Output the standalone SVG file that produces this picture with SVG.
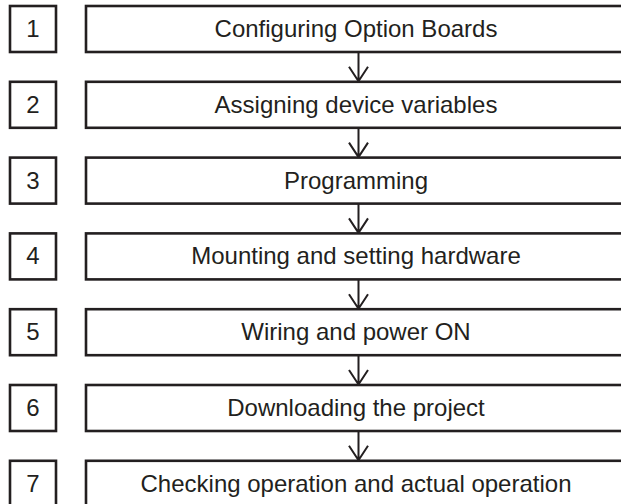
<svg xmlns="http://www.w3.org/2000/svg" width="621" height="504" viewBox="0 0 621 504">
<style>
.b{fill:#fff;stroke:#231f20;stroke-width:2.6}
.t{font-family:"Liberation Sans",Arial,sans-serif;font-size:24px;fill:#231f20;text-anchor:middle}
.c{fill:none;stroke:#231f20;stroke-width:2}
</style>
<rect width="621" height="504" fill="#fff"/>
<g id="connectors">
<path class="c" d="M358.5 52V81.8M349 66.8L358.5 81.3L368 66.8"/>
<path class="c" d="M358.5 127.8V157.6M349 142.6L358.5 157.1L368 142.6"/>
<path class="c" d="M358.5 203.6V233.4M349 218.4L358.5 232.9L368 218.4"/>
<path class="c" d="M358.5 279.4V309.2M349 294.2L358.5 308.7L368 294.2"/>
<path class="c" d="M358.5 355.2V385M349 370L358.5 384.5L368 370"/>
<path class="c" d="M358.5 431V460.8M349 445.8L358.5 460.3L368 445.8"/>
</g>
<g id="n1"><rect class="b" x="10" y="6" width="46" height="46"/><text class="t" x="33" y="37">1</text><rect class="b" x="86" y="6" width="550" height="46"/><text class="t" x="356" y="37">Configuring Option Boards</text></g>
<g id="n2"><rect class="b" x="10" y="81.8" width="46" height="46"/><text class="t" x="33" y="112.8">2</text><rect class="b" x="86" y="81.8" width="550" height="46"/><text class="t" x="356" y="112.8">Assigning device variables</text></g>
<g id="n3"><rect class="b" x="10" y="157.6" width="46" height="46"/><text class="t" x="33" y="188.6">3</text><rect class="b" x="86" y="157.6" width="550" height="46"/><text class="t" x="356" y="188.6">Programming</text></g>
<g id="n4"><rect class="b" x="10" y="233.4" width="46" height="46"/><text class="t" x="33" y="264.4">4</text><rect class="b" x="86" y="233.4" width="550" height="46"/><text class="t" x="356" y="264.4">Mounting and setting hardware</text></g>
<g id="n5"><rect class="b" x="10" y="309.2" width="46" height="46"/><text class="t" x="33" y="340.2">5</text><rect class="b" x="86" y="309.2" width="550" height="46"/><text class="t" x="356" y="340.2">Wiring and power ON</text></g>
<g id="n6"><rect class="b" x="10" y="385" width="46" height="46"/><text class="t" x="33" y="416">6</text><rect class="b" x="86" y="385" width="550" height="46"/><text class="t" x="356" y="416">Downloading the project</text></g>
<g id="n7"><rect class="b" x="10" y="460.8" width="46" height="46"/><text class="t" x="33" y="491.8">7</text><rect class="b" x="86" y="460.8" width="550" height="46"/><text class="t" x="356" y="491.8">Checking operation and actual operation</text></g>
</svg>
